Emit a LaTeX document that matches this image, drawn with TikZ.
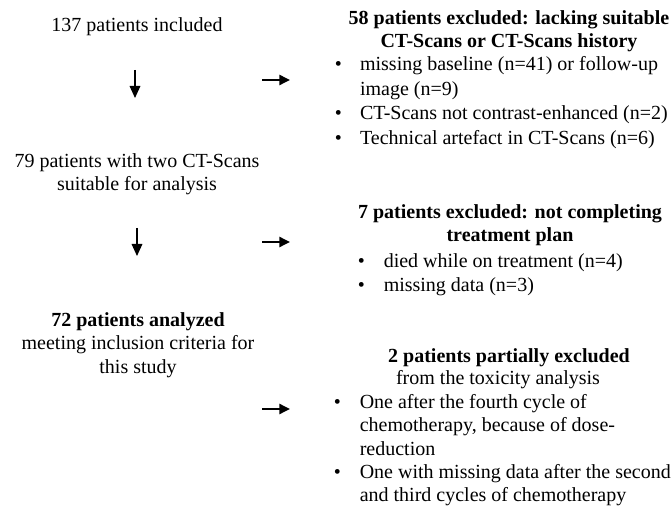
\documentclass[tikz,border=0pt]{standalone}
\usepackage{fontspec}
\setmainfont{Liberation Serif}
\usetikzlibrary{arrows.meta}

\tikzset{
  stage/.style={align=center, inner sep=0pt, font=\fontsize{15}{17.5}\selectfont},
  excl/.style={align=center, inner sep=0pt, font=\fontsize{15}{17.5}\selectfont\bfseries},
  items/.style={anchor=west, inner sep=0pt, font=\fontsize{15}{18.5}\selectfont},
  down/.style={-{Triangle[length=9pt,width=8pt]}, line width=0.9pt},
  side/.style={-{Triangle[length=8pt,width=7.5pt]}, line width=1.8pt},
}
\newcommand{\bul}{\textbullet}

\begin{document}
\begin{tikzpicture}[x=0.75pt, y=-0.75pt]

\fill[white] (0,0) rectangle (671,513);
\useasboundingbox (0,0) rectangle (671,513);

% --- Left column: patient flow ---
\node[stage] (incl) at (137,27) {137 patients included};
\node[stage] (suit) at (137,174) {79 patients with two CT-Scans\\suitable for analysis};
\node[stage] (anal) at (138,345) {\textbf{72 patients analyzed}\\meeting inclusion criteria for\\this study};

% down arrows
\coordinate (d1a) at (135,70);
\coordinate (d1b) at (135,98);
\coordinate (d2a) at (137,228);
\coordinate (d2b) at (137,256);
\draw[down] (d1a) -- (d1b);
\draw[down] (d2a) -- (d2b);

% --- Right column: exclusions ---
\node[excl] (ex1) at (509,31.5) {58 patients excluded: lacking suitable\\CT-Scans or CT-Scans history};
\node[items] (ex1list) at (334.5,102.5) {%
  \begin{tabular}{@{}p{19pt}@{}l@{}}
  \bul & missing baseline (n=41) or follow-up\\
       & image (n=9)\\
  \bul & CT-Scans not contrast-enhanced (n=2)\\
  \bul & Technical artefact in CT-Scans (n=6)
  \end{tabular}};

\node[excl] (ex2) at (510,225.5) {7 patients excluded: not completing\\treatment plan};
\node[items] (ex2list) at (357.5,274.5) {%
  \begin{tabular}{@{}p{19.5pt}@{}l@{}}
  \bul & died while on treatment (n=4)\\
  \bul & missing data (n=3)
  \end{tabular}};

\node[excl] (ex3) at (509,358) {2 patients partially excluded};
\node[stage] (ex3sub) at (498,380) {from the toxicity analysis};
\node[items, font=\fontsize{15}{17.5}\selectfont] (ex3list) at (333.5,450.5) {%
  \begin{tabular}{@{}p{19.5pt}@{}l@{}}
  \bul & One after the fourth cycle of\\
       & chemotherapy, because of dose-\\
       & reduction\\
  \bul & One with missing data after the second\\
       & and third cycles of chemotherapy
  \end{tabular}};

% side arrows
\coordinate (s1a) at (262,80);
\coordinate (s1b) at (290,80);
\coordinate (s2a) at (262,242);
\coordinate (s2b) at (290,242);
\coordinate (s3a) at (262,409);
\coordinate (s3b) at (290,409);
\draw[side] (s1a) -- (s1b);
\draw[side] (s2a) -- (s2b);
\draw[side] (s3a) -- (s3b);

\end{tikzpicture}
\end{document}
